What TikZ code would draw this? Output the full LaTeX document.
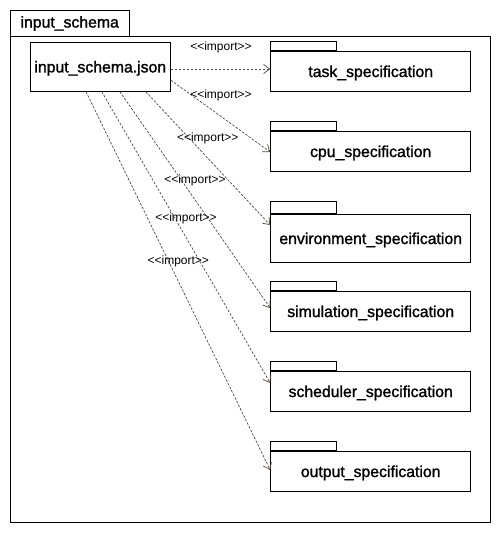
\documentclass[tikz,border=0pt]{standalone}
\usepackage{fontspec}
\setmainfont{Liberation Sans}
\newfontfamily\medfont{Liberation Sans}[FakeBold=1.4]
\usetikzlibrary{arrows.meta}
\definecolor{arrowgray}{HTML}{4F493D}
\begin{document}
\begin{tikzpicture}[x=1pt,y=-1pt,
  frame/.style={draw=black,line width=1pt},
  pkg/.style={draw=black,line width=1pt,minimum width=200pt,minimum height=40pt,inner sep=0pt,text depth=0pt,font=\medfont\fontsize{15.8}{19}\selectfont},
  tabbox/.style={draw=black,line width=1pt},
  imp/.style={draw=arrowgray,line width=0.7pt,dash pattern=on 2.5pt off 1.5pt,-{Straight Barb[length=6pt,width=9pt,line width=0.7pt]}},
  lbl/.style={font=\fontsize{12}{14}\selectfont,inner sep=0pt,text=black}]
\useasboundingbox (0,0) rectangle (501,533);
% outer package
\draw[frame] (10,36.7) rectangle (490.7,522.3);
\draw[frame] (10,10) rectangle (129.3,36.7);
\node[font=\medfont\fontsize{15.8}{19}\selectfont,inner sep=0pt] (title) at (69.7,23.5) {input\_schema};
% json artifact
\node[draw=black,line width=1pt,minimum width=140pt,minimum height=49pt,inner sep=0pt,text depth=0pt,font=\medfont\fontsize{15.8}{19}\selectfont] (json) at (100.3,66.7) {input\_schema.json};
% packages
\node[pkg] (task) at (370.7,71.3) {task\_specification};
\node[pkg] (cpu) at (370.7,151.3) {cpu\_specification};
\node[pkg,minimum height=48pt] (env) at (370.7,238.3) {environment\_specification};
\node[pkg] (sim) at (370.7,311.3) {simulation\_specification};
\node[pkg] (sch) at (370.7,391.3) {scheduler\_specification};
\node[pkg] (out) at (370.7,471.3) {output\_specification};
\draw[tabbox] (task.north west) rectangle ++(66,-9);
\draw[tabbox] (cpu.north west) rectangle ++(66,-9);
\draw[tabbox] (env.north west) rectangle ++(66,-12);
\draw[tabbox] (sim.north west) rectangle ++(66,-9);
\draw[tabbox] (sch.north west) rectangle ++(66,-9);
\draw[tabbox] (out.north west) rectangle ++(66,-9);
% import dependencies
\draw[imp] ([yshift=-2.3pt]json.east) -- ([yshift=2.3pt]task.west);
\draw[imp] ([yshift=-13.5pt]json.east) -- ([yshift=-0.7pt]cpu.west);
\draw[imp] ([xshift=45.4pt]json.south) -- ([yshift=13.3pt]env.west);
\draw[imp] ([xshift=19.6pt]json.south) -- ([yshift=3.3pt]sim.west);
\draw[imp] ([xshift=1.5pt]json.south) -- ([yshift=8.3pt]sch.west);
\draw[imp] ([xshift=-14.3pt]json.south) -- ([yshift=1.3pt]out.west);
% labels
\node[lbl] (l1) at (221,47.3) {{<}{<}import{>}{>}};
\node[lbl] (l2) at (221,95.7) {{<}{<}import{>}{>}};
\node[lbl] (l3) at (207.7,138.5) {{<}{<}import{>}{>}};
\node[lbl] (l4) at (195,180.7) {{<}{<}import{>}{>}};
\node[lbl] (l5) at (186,218.3) {{<}{<}import{>}{>}};
\node[lbl] (l6) at (178.3,261.7) {{<}{<}import{>}{>}};
\end{tikzpicture}
\end{document}
